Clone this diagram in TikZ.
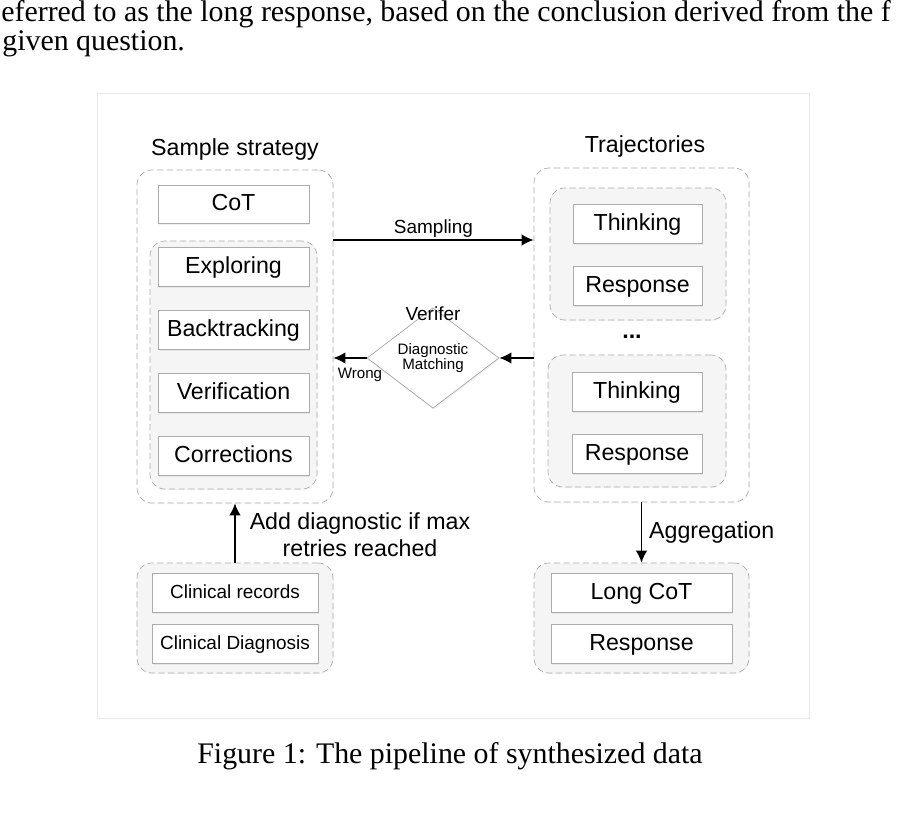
\documentclass[tikz,border=0pt]{standalone}
\usepackage{fontspec}
\setmainfont{Liberation Serif}
\setsansfont{Liberation Sans}
\usepackage{tikz}
\usetikzlibrary{arrows.meta,shapes.geometric,shadows}

\begin{document}
\begin{tikzpicture}[
	font=\sffamily\fontsize{13.2}{15.5}\selectfont,
	box/.style={draw=gray!65, fill=white, inner sep=0pt, minimum height=0.78cm, text depth=0.3ex,
		drop shadow={opacity=0.12, shadow xshift=0.5pt, shadow yshift=-0.9pt}},
	group/.style={draw=gray!65, dash pattern=on 3.5pt off 2pt, rounded corners=0.3cm,
		inner sep=0pt, drop shadow={opacity=0.06, shadow xshift=0.4pt, shadow yshift=-0.8pt}},
	greygroup/.style={group, fill=gray!8},
	arr/.style={-{Latex[length=2.4mm,width=2.3mm]}, line width=0.9pt},
	small/.style={font=\sffamily\fontsize{10.8}{12.5}\selectfont},
	tiny/.style={font=\sffamily\fontsize{8.6}{10}\selectfont}
	]
					\useasboundingbox (0,0) rectangle (18.12,-16.3);
					
					\node[anchor=base west, inner sep=0pt, font=\rmfamily\fontsize{17}{20}\selectfont] (txta) at (0.02,-0.42) {eferred to as the long response, based on the conclusion derived from the f};
					\node[anchor=base west, inner sep=0pt, font=\rmfamily\fontsize{17}{20}\selectfont] (txtb) at (0.04,-1.00) {given question.};
					
					\filldraw[fill=white, draw=gray!18] (1.94,-1.86) rectangle (16.18,-14.36);
					
					\node at (4.70,-2.98) (ttlL) {Sample strategy};
					\node[group, fill=white, minimum width=3.92cm, minimum height=6.66cm] (strat) at (4.70,-6.73) {};
					\node[box, minimum width=3.02cm, minimum height=0.76cm] (cot) at (4.67,-4.08) {CoT};
					\node[greygroup, minimum width=3.34cm, minimum height=4.96cm] (lcot) at (4.67,-7.30) {};
					\node[box, minimum width=3.02cm] (explo) at (4.67,-5.33) {Exploring};
					\node[box, minimum width=3.02cm] (back) at (4.67,-6.59) {Backtracking};
					\node[box, minimum width=3.02cm] (verif) at (4.67,-7.85) {Verification};
					\node[box, minimum width=3.02cm] (corr) at (4.67,-9.11) {Corrections};
					
					\node at (12.90,-2.92) (ttlR) {Trajectories};
					\node[group, fill=white, minimum width=4.30cm, minimum height=6.68cm] (traj) at (12.83,-6.70) {};
					\node[greygroup, minimum width=3.52cm, minimum height=2.64cm] (trA) at (12.76,-5.08) {};
					\node[box, minimum width=2.58cm] (thA) at (12.75,-4.47) {Thinking};
					\node[box, minimum width=2.58cm] (reA) at (12.75,-5.71) {Response};
					\node (dots) at (12.64,-6.74) {\textbf{...}};
					\node[greygroup, minimum width=3.56cm, minimum height=2.64cm] (trB) at (12.74,-8.42) {};
					\node[box, minimum width=2.60cm] (thB) at (12.74,-7.83) {Thinking};
					\node[box, minimum width=2.60cm] (reB) at (12.74,-9.07) {Response};
					
					\node[greygroup, minimum width=3.92cm, minimum height=2.20cm] (clin) at (4.70,-12.36) {};
					\node[box, small, minimum width=3.32cm] (rec) at (4.70,-11.85) {Clinical records};
					\node[box, small, minimum width=3.32cm] (diag) at (4.70,-12.87) {Clinical Diagnosis};
					
					\node[greygroup, minimum width=4.30cm, minimum height=2.20cm] (out) at (12.83,-12.36) {};
					\node[box, minimum width=3.62cm] (lcotb) at (12.83,-11.85) {Long CoT};
					\node[box, minimum width=3.62cm] (reC) at (12.83,-12.87) {Response};
					
					\node[diamond, draw=gray!70, fill=white, minimum width=2.64cm, minimum height=1.24cm, inner sep=0pt,
						tiny, align=center, drop shadow={opacity=0.1, shadow xshift=0.5pt, shadow yshift=-0.9pt}] (match) at (8.66,-7.16) {Diagnostic\\[-1pt]Matching};
					\node[small] (verlbl) at (8.66,-6.28) {Verifer};
					
					\draw[arr] (strat.east |- 0,-4.80) -- node[small, above, inner sep=1pt] {Sampling} (traj.west |- 0,-4.80);
					\draw[arr] (traj.west |- match.east) -- (match.east);
					\draw[arr] (match.west) -- (strat.east |- match.west);
					\node[tiny] (wrong) at (7.20,-7.50) {Wrong};
					
					\draw[arr] (clin.north) -- (strat.south);
					\node[align=center] (addlbl) at (7.20,-10.70) {Add diagnostic if max\\retries reached};
					
					\draw[arr] (traj.south) -- (out.north);
					\node[anchor=west] (agglbl) at (12.86,-10.64) {Aggregation};
					
					\node[anchor=base, font=\rmfamily\fontsize{17}{20}\selectfont] (cap) at (9.00,-15.26) {Figure 1: The pipeline of synthesized data};
					
				\end{tikzpicture}
\end{document}
